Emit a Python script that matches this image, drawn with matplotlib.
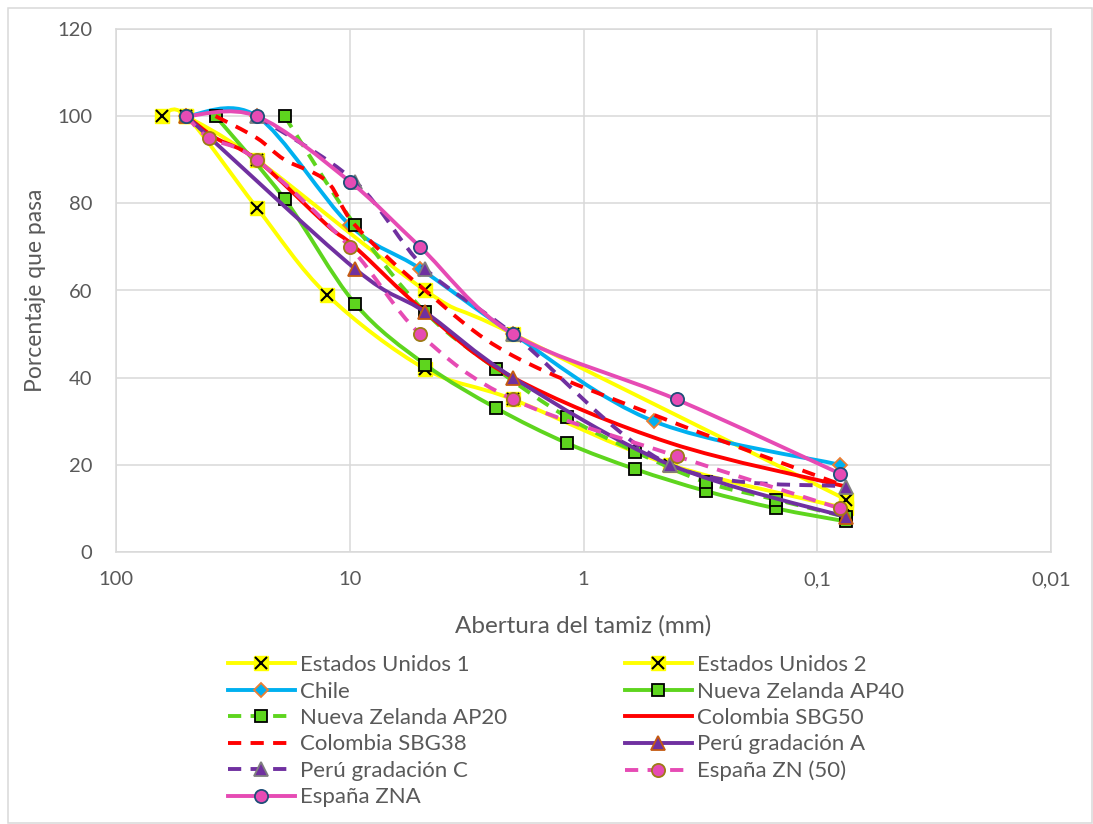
import numpy as np
import matplotlib
matplotlib.use('Agg')
import matplotlib.pyplot as plt
from matplotlib.path import Path
from matplotlib.patches import PathPatch, Rectangle
from matplotlib.lines import Line2D
from matplotlib.ticker import FixedLocator, FixedFormatter, NullLocator

plt.rcParams['font.family'] = ['Lato', 'DejaVu Sans']

# sieve openings (mm) and percent passing
us1_x = [63.5, 50, 25, 12.5, 4.75, 2, 0.425, 0.075]
us1_y = [100, 100, 79, 59, 42, 35, 20, 10]
us2_x = [50, 25, 4.75, 2, 0.075]
us2_y = [100, 90, 60, 50, 12]
chile_x = [50, 25, 10, 5, 2, 0.5, 0.08]
chile_y = [100, 100, 75, 65, 50, 30, 20]
nz40_x = [37.5, 19, 9.5, 4.75, 2.36, 1.18, 0.6, 0.3, 0.15, 0.075]
nz40_y = [100, 81, 57, 43, 33, 25, 19, 14, 10, 7]
nz20_x = [19, 9.5, 4.75, 2.36, 1.18, 0.6, 0.3, 0.15, 0.075]
nz20_y = [100, 75, 55, 42, 31, 23, 16, 12, 8]
col50_x = [50, 37.5, 25, 12.5, 9.5, 4.75, 2, 0.425, 0.075]
col50_y = [100, 95, 90, 75, 70, 55, 40, 25, 15]
col38_x = [37.5, 25, 19, 12.5, 9.5, 4.75, 2, 0.425, 0.075]
col38_y = [100, 95, 90, 85, 75, 60, 45, 30, 15]
peruA_x = [50, 9.5, 4.75, 2, 0.425, 0.075]
peruA_y = [100, 65, 55, 40, 20, 8]
peruC_x = [25, 9.5, 4.75, 2, 0.425, 0.075]
peruC_y = [100, 85, 65, 50, 20, 15]
zn_x = [50, 40, 25, 10, 5, 2, 0.4, 0.08]
zn_y = [100, 95, 90, 70, 50, 35, 22, 10]
zna_x = [50, 25, 10, 5, 2, 0.4, 0.08]
zna_y = [100, 100, 85, 70, 50, 35, 18]

x_ticks = [100, 10, 1, 0.1, 0.01]
x_tick_labels = ['100', '10', '1', '0,1', '0,01']
y_ticks = [0, 20, 40, 60, 80, 100, 120]

YEL = '#FFFF00'
BLUE = '#00B0F0'
GREEN = '#5ED51E'
RED = '#FF0000'
PURPLE = '#7030A0'
PINK = '#E64BB4'
GREY_TXT = '#595959'
DASH = (0, (3.4, 2.4))


def smooth_path(xs, ys):
    # Excel-like smoothed line: cubic bezier through the points (in log-x space)
    pts = np.column_stack([np.log10(xs), ys]).astype(float)
    n = len(pts)
    verts = [pts[0]]
    codes = [Path.MOVETO]
    for i in range(n - 1):
        p0 = pts[i - 1] if i > 0 else pts[i]
        p1 = pts[i]
        p2 = pts[i + 1]
        p3 = pts[i + 2] if i + 2 < n else pts[i + 1]
        verts += [p1 + (p2 - p0) / 6, p2 - (p3 - p1) / 6, p2]
        codes += [Path.CURVE4] * 3
    verts = np.array(verts)
    verts[:, 0] = 10 ** verts[:, 0]
    return Path(verts, codes)


series = [
    # label, x, y, color, linestyle, marker, face, edge, size
    ('Estados Unidos 1', us1_x, us1_y, YEL, '-', 'X', YEL, 'black', 9.5),
    ('Estados Unidos 2', us2_x, us2_y, YEL, '-', 'X', YEL, 'black', 9.5),
    ('Chile', chile_x, chile_y, BLUE, '-', 'D', BLUE, '#ED7D31', 7.5),
    ('Nueva Zelanda AP40', nz40_x, nz40_y, GREEN, '-', 's', GREEN, 'black', 9.0),
    ('Nueva Zelanda AP20', nz20_x, nz20_y, GREEN, DASH, 's', GREEN, 'black', 9.0),
    ('Colombia SBG50', col50_x, col50_y, RED, '-', None, None, None, 0),
    ('Colombia SBG38', col38_x, col38_y, RED, DASH, None, None, None, 0),
    ('Perú gradación A', peruA_x, peruA_y, PURPLE, '-', '^', PURPLE, '#C55A11', 10),
    ('Perú gradación C', peruC_x, peruC_y, PURPLE, DASH, '^', PURPLE, '#7F7F7F', 10),
    ('España ZN (50)', zn_x, zn_y, PINK, DASH, 'o', PINK, '#9E7B16', 9.5),
    ('España ZNA', zna_x, zna_y, PINK, '-', 'o', PINK, '#1F4E79', 9.5),
]

fig = plt.figure(figsize=(10.93, 8.24), dpi=100)
ax = fig.add_axes([116 / 1093, 272 / 824, 935 / 1093, 523 / 824])

handles = []
z = 3
for label, xs, ys, col, ls, mk, fc, ec, ms in series:
    ax.add_patch(PathPatch(smooth_path(xs, ys), fill=False, edgecolor=col,
                           lw=2.8, linestyle=ls, capstyle='butt', zorder=z))
    if mk == 'X':
        ax.plot(xs, ys, ls='none', marker='s', ms=ms, mfc=fc, mec=fc, zorder=z + 0.1)
        ax.plot(xs, ys, ls='none', marker='x', ms=ms * 0.85, mec=ec, mew=1.5, zorder=z + 0.2)
        h = (Line2D([], [], color=col, lw=2.8, ls=ls, marker='s', ms=ms, mfc=fc, mec=fc),
             Line2D([], [], ls='none', marker='x', ms=ms * 0.85, mec=ec, mew=1.5))
    elif mk is not None:
        ax.plot(xs, ys, ls='none', marker=mk, ms=ms, mfc=fc, mec=ec, mew=1.3, zorder=z + 0.1)
        h = Line2D([], [], color=col, lw=2.8, ls=ls, marker=mk, ms=ms, mfc=fc, mec=ec, mew=1.3)
    else:
        h = Line2D([], [], color=col, lw=2.8, ls=ls)
    handles.append((h, label))
    z += 1

ax.set_xscale('log')
ax.set_xlim(100, 0.01)
ax.set_ylim(0, 120)
ax.xaxis.set_major_locator(FixedLocator(x_ticks))
ax.xaxis.set_major_formatter(FixedFormatter(x_tick_labels))
ax.xaxis.set_minor_locator(NullLocator())
ax.set_yticks(y_ticks)
ax.grid(True, color='#D9D9D9', lw=1.1, zorder=0)
ax.set_axisbelow(True)
for s in ax.spines.values():
    s.set_color('#D9D9D9')
    s.set_linewidth(1.1)
ax.tick_params(length=0, labelsize=14.5, labelcolor=GREY_TXT)
ax.tick_params(axis='y', pad=17)
ax.tick_params(axis='x', pad=14)

ax.set_xlabel('Abertura del tamiz (mm)', fontsize=17.5, color=GREY_TXT, labelpad=19)
ax.set_ylabel('Porcentaje que pasa', fontsize=16.5, color=GREY_TXT, labelpad=8)

# legend: two columns filled row by row, each column is its own legend
legend_opts = dict(loc='upper left', frameon=False, fontsize=16, handlelength=3.0,
                   handletextpad=0.25, labelspacing=0.29, borderpad=0, numpoints=1)
col1 = [handles[i] for i in range(0, 11, 2)]
col2 = [handles[i] for i in range(1, 11, 2)]
leg1 = fig.legend([h for h, _ in col1], [l for _, l in col1],
                  bbox_to_anchor=(217 / 1093, 1 - 644 / 824), **legend_opts)
leg2 = fig.legend([h for h, _ in col2], [l for _, l in col2],
                  bbox_to_anchor=(614 / 1093, 1 - 644 / 824), **legend_opts)
for leg in (leg1, leg2):
    for t in leg.get_texts():
        t.set_color(GREY_TXT)

fig.patches.append(Rectangle((8 / 1093, 1 / 824), 1084 / 1093, 815 / 824,
                             transform=fig.transFigure, fill=False,
                             edgecolor='#D9D9D9', lw=1.1))

fig.savefig('out.png', dpi=100)
